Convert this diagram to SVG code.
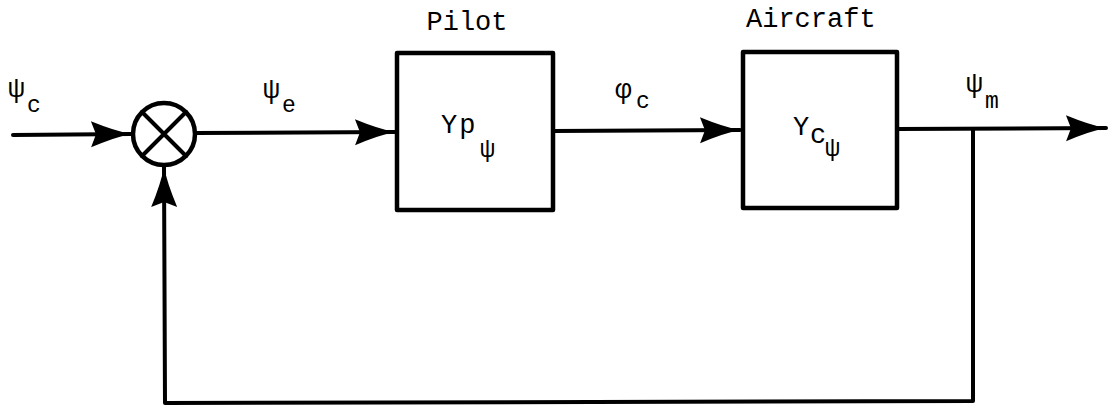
<svg xmlns="http://www.w3.org/2000/svg" width="1110" height="407" viewBox="0 0 1110 407">
<defs>
<style>
.ln{fill:none;stroke:#000;stroke-width:4;stroke-linecap:round;stroke-linejoin:round}
.bx{fill:#fff;stroke:#000;stroke-width:4.5;stroke-linejoin:round}
.t{font-family:"Liberation Mono","DejaVu Sans Mono",monospace;fill:#000}
.big{font-size:27px}
.psi{font-size:28px}
.sub{font-size:23px}
.spsi{font-size:25px}
</style>
<marker id="ah" markerUnits="userSpaceOnUse" viewBox="-42 -14 44 28" refX="0" refY="0" markerWidth="44" markerHeight="28" orient="auto">
<path d="M0 0 Q-16 -3 -40 -13 L-35 0 L-40 13 Q-16 3 0 0 Z" fill="#000"/>
</marker>
</defs>
<rect width="1110" height="407" fill="#fff"/>
<g id="connectors">
<path class="ln" d="M13 135 L131 134" marker-end="url(#ah)"/>
<path class="ln" d="M195 133 L395 132" marker-end="url(#ah)"/>
<path class="ln" d="M553 131 L740 130" marker-end="url(#ah)"/>
<path class="ln" d="M897 129 L1106 128" marker-end="url(#ah)"/>
<path class="ln" d="M973 129 L973 401 L165 403 L164 167" marker-end="url(#ah)"/>
</g>
<g id="node-sum">
<circle cx="164" cy="134" r="31" fill="#fff" stroke="#000" stroke-width="4.5"/>
<path class="ln" d="M142 112 L186 156 M186 112 L142 156"/>
</g>
<g id="node-pilot">
<rect class="bx" x="397" y="53" width="156" height="157"/>
<text class="t big" x="467" y="30" text-anchor="middle">Pilot</text>
<text class="t big" x="441" y="133" letter-spacing="2">Yp</text>
<text class="t spsi" x="480" y="157">ψ</text>
</g>
<g id="node-aircraft">
<rect class="bx" x="743" y="52" width="154" height="156"/>
<text class="t big" x="746" y="27">Aircraft</text>
<text class="t big" x="793" y="135">Y</text>
<text class="t big" x="810" y="143">c</text>
<text class="t spsi" x="825" y="156">ψ</text>
</g>
<g id="labels">
<text class="t psi" x="8" y="97">ψ</text>
<text class="t sub" x="27" y="112">c</text>
<text class="t psi" x="263" y="98">ψ</text>
<text class="t sub" x="282" y="112">e</text>
<text class="t psi" x="615" y="98">φ</text>
<text class="t sub" x="636" y="108">c</text>
<text class="t psi" x="966" y="92">ψ</text>
<text class="t sub" x="985" y="108">m</text>
</g>
</svg>
